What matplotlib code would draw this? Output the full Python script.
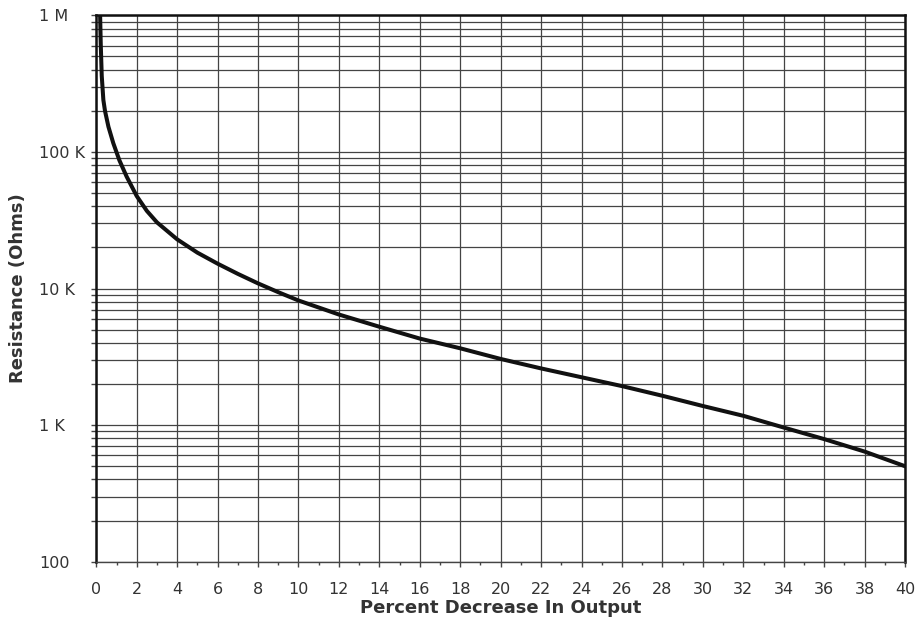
import matplotlib.pyplot as plt
from matplotlib.ticker import LogLocator, FixedLocator, NullFormatter, MultipleLocator

# Data
pct_decrease = [0.19, 0.22, 0.27, 0.35, 0.43, 0.6, 0.84, 1.14, 1.5, 2, 2.5, 3,
                4, 5, 6, 7, 8, 9, 10, 12, 14, 16, 18, 20, 22, 24, 26, 28, 30,
                32, 34, 36, 38, 40]
resistance = [1.0e6, 6.2e5, 3.6e5, 2.4e5, 2.0e5, 1.53e5, 1.16e5, 8.7e4, 6.6e4,
              4.75e4, 3.7e4, 3.05e4, 2.29e4, 1.83e4, 1.52e4, 1.28e4, 1.09e4,
              9.4e3, 8.17e3, 6.45e3, 5.25e3, 4.3e3, 3.65e3, 3.05e3, 2.6e3,
              2.24e3, 1.93e3, 1.64e3, 1.38e3, 1.17e3, 9.6e2, 7.9e2, 6.4e2,
              5.0e2]

y_ticks = [100, 1e3, 1e4, 1e5, 1e6]
y_labels = ["100", "1 K", "10 K", "100 K", "1 M"]

grid_col = "#444444"
text_col = "#333333"

fig = plt.figure(figsize=(9.17, 6.32), dpi=100)
ax = fig.add_axes([0.105, 0.1112, 0.882, 0.8646])

ax.set_yscale("log")
ax.set_xlim(0, 40)
ax.set_ylim(100, 1e6)

ax.xaxis.set_major_locator(MultipleLocator(2))
ax.xaxis.set_minor_locator(MultipleLocator(1))
ax.yaxis.set_major_locator(FixedLocator(y_ticks))
ax.set_yticklabels(y_labels)
ax.yaxis.set_minor_locator(LogLocator(base=10, subs=range(2, 10)))
ax.yaxis.set_minor_formatter(NullFormatter())

ax.grid(True, which="major", axis="x", color=grid_col, lw=0.9)
ax.grid(True, which="both", axis="y", color=grid_col, lw=0.9)
ax.set_axisbelow(True)

ax.plot(pct_decrease, resistance, color="#111111", lw=2.9,
        solid_joinstyle="round", zorder=3)

ax.tick_params(axis="x", which="major", length=3.6, width=1.0, pad=11,
               labelsize=11.5, colors=grid_col, labelcolor=text_col)
ax.tick_params(axis="x", which="minor", length=2.5, width=1.0, colors=grid_col)
# left-aligned y tick labels, starting ~39 px from the left edge
ax.tick_params(axis="y", which="both", length=3.4, width=1.0, pad=37.5,
               labelsize=11.5, colors=grid_col, labelcolor=text_col)
for lbl in ax.get_yticklabels():
    lbl.set_horizontalalignment("left")

for side in ["left", "right", "top"]:
    ax.spines[side].set_linewidth(1.8)
    ax.spines[side].set_color("#111111")
ax.spines["bottom"].set_linewidth(1.0)
ax.spines["bottom"].set_color(grid_col)

fig.text(0.5 * (0.105 + 0.987), 0.038, "Percent Decrease In Output",
         fontsize=13, fontweight="bold", color=text_col,
         ha="center", va="center")
fig.text(0.0195, 0.5 * (0.1112 + 0.9758), "Resistance (Ohms)",
         fontsize=13, fontweight="bold", color=text_col,
         rotation=90, ha="center", va="center")

fig.savefig("out.png", dpi=100)
